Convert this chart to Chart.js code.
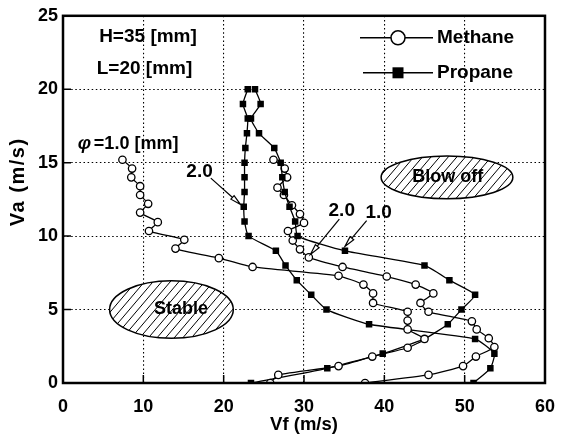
<!DOCTYPE html>
<html>
<head>
<meta charset="utf-8">
<script src="https://cdn.jsdelivr.net/npm/chart.js@4.4.0/dist/chart.umd.min.js"></script>
<style>
    html, body { margin: 0; padding: 0; background: #fff; }
    #wrap { width: 568px; height: 446px; }
</style>
</head>
<body>
<div id="wrap"><canvas id="flameChart" width="568" height="446"></canvas></div>
<script>
// Methane, phi = 1.0 mm (read top to bottom along the curve)
const methane1Vf = [7.4, 8.6, 8.5, 9.6, 9.6, 10.6, 9.6, 11.8, 10.7, 15.1, 14.0, 19.4, 23.6,
    34.3, 37.4, 38.6, 38.6, 42.9, 42.9, 42.9, 45.0, 42.9, 38.5, 34.3, 26.8, 25.8];
const methane1Va = [15.2, 14.6, 14.0, 13.4, 12.8, 12.2, 11.6, 10.95, 10.35, 9.75, 9.15, 8.5, 7.9,
    7.3, 6.7, 6.1, 5.45, 4.85, 4.25, 3.65, 3.0, 2.4, 1.8, 1.15, 0.55, 0];

// Methane, phi = 2.0 mm
const methane2Vf = [26.2, 27.6, 27.9, 26.7, 27.5, 28.5, 29.5, 30.0, 28.0, 28.6, 29.5, 30.6, 34.8,
    40.3, 43.9, 46.1, 44.5, 45.5, 50.9, 51.5, 53.0, 53.7, 51.4, 49.8, 45.5, 37.6];
const methane2Va = [15.2, 14.6, 14.0, 13.3, 12.8, 12.1, 11.5, 10.9, 10.35, 9.7, 9.1, 8.55, 7.9,
    7.25, 6.7, 6.1, 5.45, 4.85, 4.2, 3.65, 3.05, 2.45, 1.8, 1.15, 0.55, 0];

// Propane, phi = 1.0 mm
const propane1Vf = [23.9, 24.6, 23.4, 24.4, 26.3, 27.1, 27.3, 27.6, 28.2, 28.9, 29.2, 35.1,
    45.0, 48.1, 51.3, 49.6, 47.9, 45.0, 39.8, 32.9, 23.4];
const propane1Va = [20, 19, 18, 17, 16, 15, 14, 13, 12, 11, 10, 9, 8, 7, 6, 5, 4, 3, 2, 1, 0];

// Propane, phi = 2.0 mm
const propane2Vf = [23.0, 22.4, 23.0, 22.9, 22.7, 22.6, 22.6, 22.6, 22.5, 22.6, 23.1, 26.5,
    27.7, 29.1, 30.9, 32.8, 38.1, 51.3, 53.7, 53.2, 51.1];
const propane2Va = [20, 19, 18, 17, 16, 15, 14, 13, 12, 11, 10, 9, 8, 7, 6, 5, 4, 3, 2, 1, 0];

const xTicks = [0, 10, 20, 30, 40, 50, 60];
const yTicks = [0, 5, 10, 15, 20, 25];

const FONT = "'Liberation Sans', Arial, Helvetica, sans-serif";

// regions and notes, placed in data units
const regions = [
    { label: 'Blow off', cx: 47.8, cy: 14.0, rx: 8.2, ry: 1.45, tx: 47.9, ty: 14.05 },
    { label: 'Stable', cx: 13.5, cy: 5.0, rx: 7.7, ry: 1.96, tx: 14.7, ty: 5.05 }
];
const notes = [
    { text: 'H=35 [mm]', x: 4.5, y: 23.6 },
    { text: 'L=20 [mm]', x: 4.2, y: 21.4 }
];
const pointers = [
    { text: '2.0', tx: 17.0, ty: 14.4, from: [18.4, 13.95], to: [22.1, 12.15] },
    { text: '2.0', tx: 34.7, ty: 11.75, from: [34.4, 11.15], to: [30.8, 8.75] },
    { text: '1.0', tx: 39.3, ty: 11.6, from: [37.8, 11.05], to: [35.1, 9.3] }
];

function toPoints(xs, ys) {
    return xs.map((x, i) => ({ x: x, y: ys[i] }));
}

function methaneSet(label, xs, ys) {
    return {
        label: label,
        data: toPoints(xs, ys),
        showLine: true,
        borderColor: '#000',
        borderWidth: 1.3,
        tension: 0.15,
        pointStyle: 'circle',
        pointRadius: 3.7,
        pointBackgroundColor: '#fff',
        pointBorderColor: '#000',
        pointBorderWidth: 1.3
    };
}

function propaneSet(label, xs, ys) {
    return {
        label: label,
        data: toPoints(xs, ys),
        showLine: true,
        borderColor: '#000',
        borderWidth: 1.3,
        tension: 0.15,
        pointStyle: 'rect',
        pointRadius: 4.6,
        pointBackgroundColor: '#000',
        pointBorderColor: '#000',
        pointBorderWidth: 0
    };
}

function drawArrow(ctx, x1, y1, x2, y2) {
    const ang = Math.atan2(y2 - y1, x2 - x1);
    const len = 11, half = 0.22;
    ctx.beginPath();
    ctx.moveTo(x1, y1);
    ctx.lineTo(x2 - Math.cos(ang) * len * 0.8, y2 - Math.sin(ang) * len * 0.8);
    ctx.stroke();
    ctx.beginPath();
    ctx.moveTo(x2, y2);
    ctx.lineTo(x2 - len * Math.cos(ang - half), y2 - len * Math.sin(ang - half));
    ctx.lineTo(x2 - len * Math.cos(ang + half), y2 - len * Math.sin(ang + half));
    ctx.closePath();
    ctx.fillStyle = '#fff';
    ctx.fill();
    ctx.stroke();
}

const decor = {
    id: 'decor',
    beforeDatasetsDraw(chart) {
        const ctx = chart.ctx;
        const sx = chart.scales.x, sy = chart.scales.y;
        regions.forEach(r => {
            const cx = sx.getPixelForValue(r.cx), cy = sy.getPixelForValue(r.cy);
            const rx = Math.abs(sx.getPixelForValue(r.cx + r.rx) - cx);
            const ry = Math.abs(sy.getPixelForValue(r.cy + r.ry) - cy);
            ctx.save();
            ctx.beginPath();
            ctx.ellipse(cx, cy, rx, ry, 0, 0, Math.PI * 2);
            ctx.fillStyle = '#fff';
            ctx.fill();
            ctx.clip();
            ctx.beginPath();
            const run = ry * 0.85;
            for (let d = -rx - run * 2; d < rx + run * 2; d += 8.6) {
                ctx.moveTo(cx + d - run, cy + ry);
                ctx.lineTo(cx + d + run, cy - ry);
            }
            ctx.strokeStyle = '#000';
            ctx.lineWidth = 1;
            ctx.stroke();
            ctx.restore();
            ctx.save();
            ctx.beginPath();
            ctx.ellipse(cx, cy, rx, ry, 0, 0, Math.PI * 2);
            ctx.strokeStyle = '#000';
            ctx.lineWidth = 1.5;
            ctx.stroke();
            ctx.font = 'bold 18px ' + FONT;
            ctx.textAlign = 'center';
            ctx.textBaseline = 'middle';
            ctx.fillStyle = '#000';
            ctx.fillText(r.label, sx.getPixelForValue(r.tx), sy.getPixelForValue(r.ty));
            ctx.restore();
        });
    },
    afterDatasetsDraw(chart) {
        const ctx = chart.ctx;
        const area = chart.chartArea;
        const sx = chart.scales.x, sy = chart.scales.y;

        ctx.save();
        // frame
        ctx.strokeStyle = '#000';
        ctx.lineWidth = 2.5;
        ctx.strokeRect(area.left, area.top, area.right - area.left, area.bottom - area.top);

        // inward ticks
        ctx.lineWidth = 1.5;
        ctx.beginPath();
        xTicks.slice(1, -1).forEach(v => {
            const p = sx.getPixelForValue(v);
            ctx.moveTo(p, area.bottom);
            ctx.lineTo(p, area.bottom - 8);
        });
        yTicks.slice(1, -1).forEach(v => {
            const p = sy.getPixelForValue(v);
            ctx.moveTo(area.left, p);
            ctx.lineTo(area.left + 8, p);
        });
        ctx.stroke();

        // notes
        ctx.fillStyle = '#000';
        ctx.textBaseline = 'middle';
        ctx.textAlign = 'left';
        ctx.font = 'bold 19px ' + FONT;
        notes.forEach(n => {
            ctx.fillText(n.text, sx.getPixelForValue(n.x), sy.getPixelForValue(n.y));
        });

        // phi label
        const phx = sx.getPixelForValue(1.85), phy = sy.getPixelForValue(16.3);
        ctx.font = 'italic bold 19px ' + FONT;
        ctx.fillText('\u03c6', phx, phy);
        ctx.font = 'bold 18px ' + FONT;
        ctx.fillText('=1.0 [mm]', phx + 16, phy);

        // pointer labels
        ctx.font = 'bold 19px ' + FONT;
        ctx.textAlign = 'center';
        ctx.lineWidth = 1.2;
        pointers.forEach(p => {
            ctx.fillStyle = '#000';
            ctx.fillText(p.text, sx.getPixelForValue(p.tx), sy.getPixelForValue(p.ty));
            drawArrow(ctx,
                sx.getPixelForValue(p.from[0]), sy.getPixelForValue(p.from[1]),
                sx.getPixelForValue(p.to[0]), sy.getPixelForValue(p.to[1]));
        });

        // legend
        const lx = area.left + 297, ly1 = area.top + 22, ly2 = area.top + 57;
        ctx.lineWidth = 1.5;
        ctx.strokeStyle = '#000';
        ctx.beginPath();
        ctx.moveTo(lx, ly1); ctx.lineTo(lx + 73, ly1);
        ctx.moveTo(lx + 3, ly2); ctx.lineTo(lx + 73, ly2);
        ctx.stroke();
        ctx.beginPath();
        ctx.arc(lx + 38, ly1, 7, 0, Math.PI * 2);
        ctx.fillStyle = '#fff';
        ctx.fill();
        ctx.stroke();
        ctx.fillStyle = '#000';
        ctx.fillRect(lx + 38 - 5.5, ly2 - 5.5, 11, 11);
        ctx.font = 'bold 19px ' + FONT;
        ctx.textAlign = 'left';
        ctx.fillText('Methane', lx + 77, ly1);
        ctx.fillText('Propane', lx + 77, ly2);

        // axis titles
        ctx.font = 'bold 18.5px ' + FONT;
        ctx.textAlign = 'center';
        ctx.fillText('Vf (m/s)', (area.left + area.right) / 2, area.bottom + 42);
        ctx.font = 'bold 20px ' + FONT;
        ctx.letterSpacing = '1.5px';
        ctx.translate(18, area.top + 166);
        ctx.rotate(-Math.PI / 2);
        ctx.fillText('Va (m/s)', 0, 0);
        ctx.restore();
    }
};

const tickFont = { family: FONT, size: 18, weight: 'bold' };

new Chart(document.getElementById('flameChart'), {
    type: 'scatter',
    data: {
        datasets: [
            methaneSet('Methane 1.0', methane1Vf, methane1Va),
            propaneSet('Propane 1.0', propane1Vf, propane1Va),
            propaneSet('Propane 2.0', propane2Vf, propane2Va),
            methaneSet('Methane 2.0', methane2Vf, methane2Va)
        ]
    },
    options: {
        responsive: false,
        animation: false,
        events: [],
        layout: { padding: { top: 13, right: 16, left: 0, bottom: 0 } },
        plugins: {
            legend: { display: false },
            tooltip: { enabled: false }
        },
        scales: {
            x: {
                type: 'linear',
                min: 0,
                max: 60,
                afterBuildTicks: scale => { scale.ticks = xTicks.map(v => ({ value: v })); },
                afterFit: scale => { scale.height = 63; },
                ticks: { color: '#000', font: tickFont, padding: 13, maxRotation: 0 },
                grid: { color: '#000', lineWidth: 1.1, drawTicks: false },
                border: { display: false, dash: [1.5, 2.6] }
            },
            y: {
                type: 'linear',
                min: 0,
                max: 25,
                afterBuildTicks: scale => { scale.ticks = yTicks.map(v => ({ value: v })); },
                afterFit: scale => { scale.width = 63; },
                ticks: { color: '#000', font: tickFont, padding: 5 },
                grid: { color: '#000', lineWidth: 1.1, drawTicks: false },
                border: { display: false, dash: [1.5, 2.6] }
            }
        }
    },
    plugins: [decor]
});
</script>
</body>
</html>
